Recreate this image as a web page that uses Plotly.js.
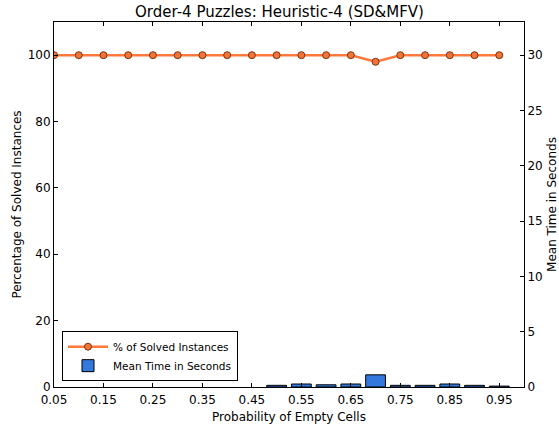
<!DOCTYPE html>
<html><head><meta charset="utf-8">
<script src="https://cdn.plot.ly/plotly-3.0.1.min.js"></script>
<style>body{margin:0;background:#fff}#c{width:559px;height:427px}</style>
</head><body><div id="c"></div>
<script>
const probs = [0.05,0.10,0.15,0.20,0.25,0.30,0.35,0.40,0.45,0.50,0.55,0.60,0.65,0.70,0.75,0.80,0.85,0.90,0.95];
const solvedPct = [100,100,100,100,100,100,100,100,100,100,100,100,100,98,100,100,100,100,100];
const meanTime = [null,null,null,null,null,null,null,null,null,0.15,0.27,0.2,0.27,1.1,0.15,0.15,0.27,0.15,0.08];
const xTickVals = [0.05,0.15,0.25,0.35,0.45,0.55,0.65,0.75,0.85,0.95];
const xTickText = ['0.05','0.15','0.25','0.35','0.45','0.55','0.65','0.75','0.85','0.95'];

const font = {family:'DejaVu Sans, sans-serif', size:12, color:'#000'};
const traces = [
  {type:'bar', x:probs, y:meanTime, yaxis:'y2', width:0.04, name:'Mean Time in Seconds',
   marker:{color:'#3378dc', line:{color:'#000', width:1}}},
  {type:'scatter', mode:'lines+markers', x:probs, y:solvedPct, name:'% of Solved Instances',
   line:{color:'#ff7a3a', width:2.5}, cliponaxis:true,
   marker:{size:7, color:'#f27436', line:{color:'#7a3410', width:1}}}
];
const layout = {
  width:559, height:427, margin:{l:54, r:35, t:22, b:40},
  paper_bgcolor:'#fff', plot_bgcolor:'#fff', font:font, showlegend:true,
  title:{text:'Order-4 Puzzles: Heuristic-4 (SD&MFV)', font:{family:'DejaVu Sans, sans-serif', size:15}, x:0.5, xanchor:'center', y:0.985, yanchor:'top'},
  xaxis:{range:[0.05,1.0], tickvals:xTickVals, ticktext:xTickText, ticks:'inside', ticklen:4, tickcolor:'#000',
    showgrid:false, zeroline:false, showline:true, linecolor:'#000', linewidth:1, mirror:'ticks', ticklabelstandoff:2,
    title:{text:'Probability of Empty Cells', font:{size:12}, standoff:6}, tickfont:{size:12}},
  yaxis:{range:[0,110], tickvals:[0,20,40,60,80,100], ticks:'inside', ticklen:4, tickcolor:'#000',
    showgrid:false, zeroline:false, showline:true, linecolor:'#000', linewidth:1,
    title:{text:'Percentage of Solved Instances', font:{size:12}, standoff:3}, tickfont:{size:12}},
  yaxis2:{range:[0,33], tickvals:[0,5,10,15,20,25,30], overlaying:'y', side:'right', ticks:'inside', ticklen:4, tickcolor:'#000',
    showgrid:false, zeroline:false, showline:true, linecolor:'#000', linewidth:1,
    title:{text:'Mean Time in Seconds', font:{size:12}, standoff:6}, tickfont:{size:12}},
  legend:{x:0.017, y:0.016, xanchor:'left', yanchor:'bottom', bgcolor:'#fff', bordercolor:'#000', borderwidth:1,
    font:{size:10.5}, traceorder:'reversed', itemwidth:40}
};
Plotly.newPlot('c', traces, layout, {displayModeBar:false, staticPlot:true});
</script></body></html>
